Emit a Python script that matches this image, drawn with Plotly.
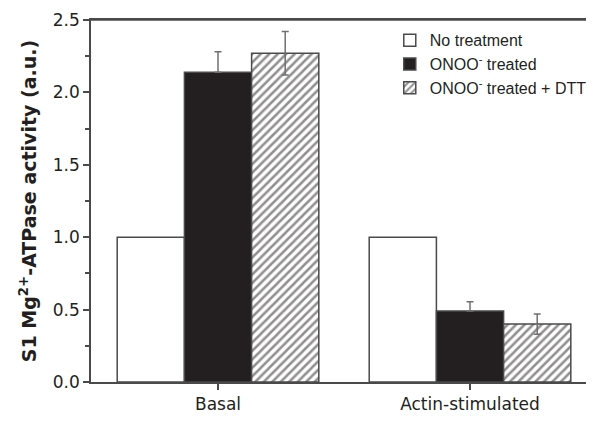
import plotly.graph_objects as go

categories = ["Basal", "Actin-stimulated"]
series_names = ["No treatment", "ONOO<sup>-</sup> treated", "ONOO<sup>-</sup> treated + DTT"]
no_treatment = [1.0, 1.0]
onoo_treated = [2.14, 0.49]
onoo_treated_err = [0.14, 0.065]
onoo_dtt = [2.27, 0.40]
onoo_dtt_err = [0.15, 0.07]
y_ticks = [0.0, 0.5, 1.0, 1.5, 2.0, 2.5]

sans = "Liberation Sans, Arial, sans-serif"
wide = "DejaVu Sans, sans-serif"
axis_col = "#4a4a4a"
outline = dict(color=axis_col, width=1.5)
err_style = dict(color="#707070", thickness=1.5, width=3.5)

fig = go.Figure()
fig.add_trace(go.Bar(
    x=categories, y=no_treatment, name=series_names[0],
    marker=dict(color="white", line=outline),
))
fig.add_trace(go.Bar(
    x=categories, y=onoo_treated, name=series_names[1],
    marker=dict(color="#231f20", line=outline),
    error_y=dict(type="data", array=onoo_treated_err, symmetric=False,
                 arrayminus=[0 for _ in onoo_treated_err], visible=True, **err_style),
))
fig.add_trace(go.Bar(
    x=categories, y=onoo_dtt, name=series_names[2],
    marker=dict(color="white", line=outline,
                pattern=dict(shape="/", fgcolor="#231f20", bgcolor="white",
                             size=6, solidity=0.42)),
    error_y=dict(type="data", array=onoo_dtt_err, visible=True, **err_style),
))

# frame line along the top of the plot area
fig.add_shape(type="line", xref="paper", yref="paper", x0=0, x1=1, y0=1, y1=1,
              line=dict(color=axis_col, width=1.5))

# page body has an 8px margin, so the figure is shifted by 8px
fig.update_layout(
    width=586, height=415,
    margin=dict(l=83, r=0, t=12, b=41),
    paper_bgcolor="white", plot_bgcolor="white",
    barmode="group", bargap=0.2, bargroupgap=0,
    font=dict(family=sans, size=16, color="#231f20"),
    showlegend=True,
    legend=dict(x=0.594, y=0.991, xanchor="left", yanchor="top",
                bgcolor="rgba(0,0,0,0)", font=dict(family=sans, size=16),
                tracegroupgap=0, itemwidth=30),
    xaxis=dict(range=[-0.504, 1.492], showline=True, linecolor=axis_col,
               linewidth=1.5, mirror=True, ticks="outside", ticklen=6,
               tickcolor=axis_col, tickwidth=1.5, showgrid=False,
               tickfont=dict(family=wide, size=17, color="#231f20")),
    yaxis=dict(range=[0, 2.5], tickvals=y_ticks,
               ticktext=[f"{v:.1f}" for v in y_ticks],
               showline=True, linecolor=axis_col, linewidth=1.5,
               ticks="outside", ticklen=6, tickcolor=axis_col, tickwidth=1.5,
               minor=dict(dtick=0.25, ticks="outside", ticklen=4,
                          tickcolor=axis_col, tickwidth=1.5, showgrid=False),
               showgrid=False, zeroline=False,
               tickfont=dict(family=wide, size=17, color="#231f20"),
               title=dict(text="<b>S1 Mg<sup>2+</sup>-ATPase activity (a.u.)</b>",
                          font=dict(family=wide, size=19, color="#231f20"),
                          standoff=11)),
)

fig.write_html("out.html")
